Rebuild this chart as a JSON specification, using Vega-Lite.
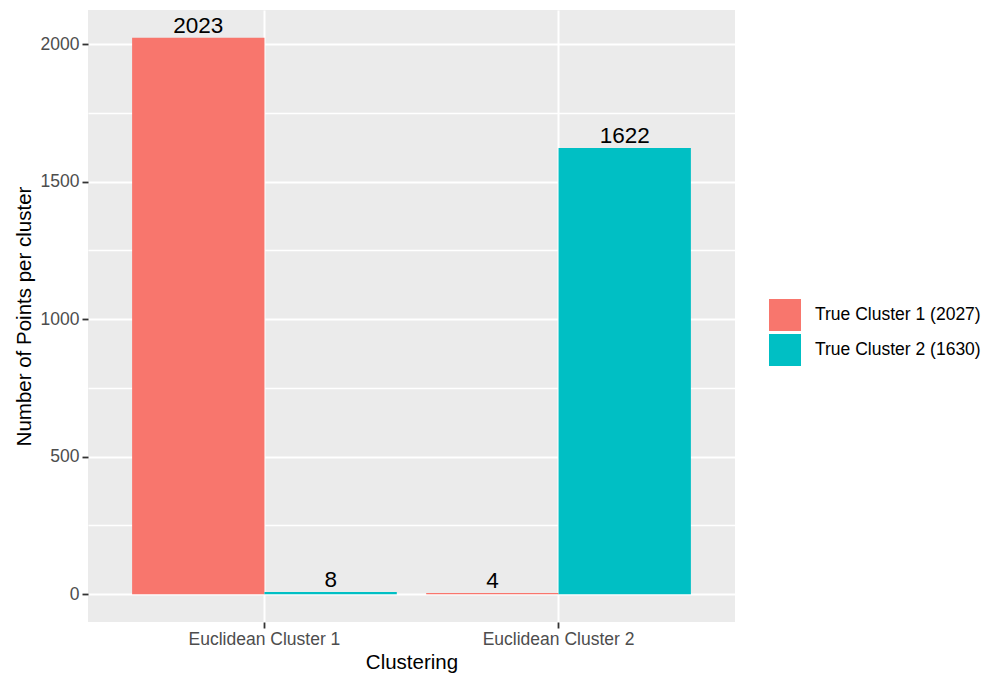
{
  "$schema": "https://vega.github.io/schema/vega-lite/v6.json",
  "autosize": "none",
  "width": 647,
  "height": 612,
  "padding": {"left": 88, "top": 10, "right": 273, "bottom": 66},
  "background": "white",
  "data": {
    "values": [
      {"cluster": "Euclidean Cluster 1", "truth": "True Cluster 1 (2027)", "n": 2023},
      {"cluster": "Euclidean Cluster 1", "truth": "True Cluster 2 (1630)", "n": 8},
      {"cluster": "Euclidean Cluster 2", "truth": "True Cluster 1 (2027)", "n": 4},
      {"cluster": "Euclidean Cluster 2", "truth": "True Cluster 2 (1630)", "n": 1622}
    ]
  },
  "encoding": {
    "x": {
      "field": "cluster",
      "type": "nominal",
      "title": "Clustering",
      "scale": {"paddingInner": 0.1, "paddingOuter": 0.15},
      "axis": {
        "labelAngle": 0,
        "bandPosition": 0.5,
        "grid": true,
        "gridColor": "white",
        "gridWidth": 2,
        "domain": false,
        "tickColor": "#333333",
        "tickSize": 6,
        "tickWidth": 1.8,
        "labelColor": "#4D4D4D",
        "labelFontSize": 17.5,
        "labelPadding": 2,
        "titleFontSize": 20.5,
        "titleFontWeight": "normal",
        "titleColor": "black",
        "titlePadding": 5
      }
    },
    "xOffset": {"field": "truth", "type": "nominal", "scale": {"paddingInner": 0, "paddingOuter": 0}},
    "y": {
      "field": "n",
      "type": "quantitative",
      "title": "Number of Points per cluster",
      "scale": {"domain": [-101, 2124], "nice": false, "zero": false},
      "axis": {
        "values": [0, 250, 500, 750, 1000, 1250, 1500, 1750, 2000],
        "labelExpr": "datum.value % 500 === 0 ? datum.label : ''",
        "format": "d",
        "grid": true,
        "gridColor": "#FFFFFF",
        "gridWidth": {"condition": {"test": "datum.value % 500 === 0", "value": 2}, "value": 1.4},
        "domain": false,
        "tickColor": {"condition": {"test": "datum.value % 500 === 0", "value": "#333333"}, "value": "transparent"},
        "tickSize": 6,
        "tickWidth": 1.8,
        "labelColor": "#4D4D4D",
        "labelFontSize": 17.5,
        "labelPadding": 3,
        "titleFontSize": 20.5,
        "titleFontWeight": "normal",
        "titleColor": "black",
        "titlePadding": 6
      }
    }
  },
  "layer": [
    {
      "mark": {"type": "bar"},
      "encoding": {
        "y2": {"datum": 0},
        "color": {
          "field": "truth",
          "type": "nominal",
          "scale": {"range": ["#F8766D", "#00BFC4"]},
          "legend": {
            "title": null,
            "orient": "none",
            "legendX": 681,
            "legendY": 289,
            "symbolType": "square",
            "symbolSize": 1024,
            "symbolStrokeWidth": 0,
            "symbolOpacity": 1,
            "rowPadding": 3,
            "labelOffset": 14,
            "labelFontSize": 17.5,
            "labelLimit": 300,
            "labelColor": "black",
            "padding": 0
          }
        }
      }
    },
    {
      "mark": {"type": "text", "baseline": "alphabetic", "dy": -5, "fontSize": 22.5, "color": "black"},
      "encoding": {
        "text": {"field": "n", "type": "quantitative", "format": "d"}
      }
    }
  ],
  "config": {
    "font": "Liberation Sans",
    "view": {"fill": "#EBEBEB", "stroke": null}
  }
}
